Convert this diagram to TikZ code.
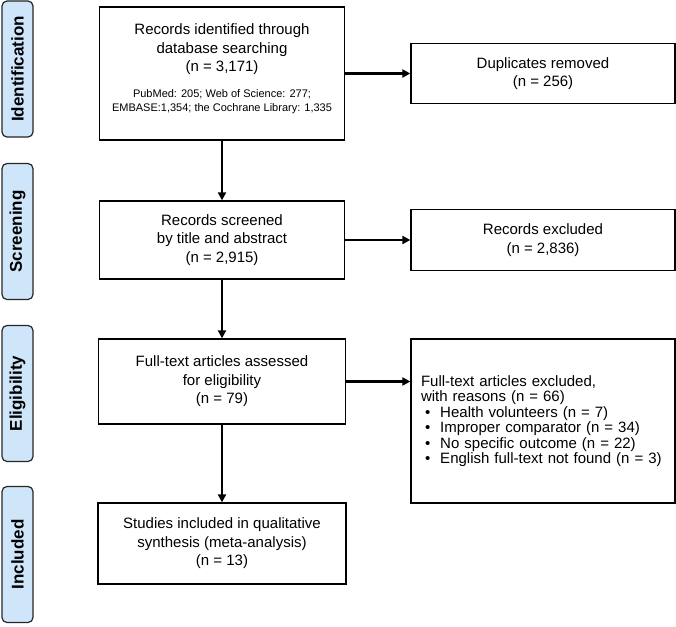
\documentclass[tikz,border=0pt]{standalone}
\usepackage{fontspec}
\setmainfont{Liberation Sans}
\usetikzlibrary{shapes, arrows.meta, positioning}
\definecolor{tabblue}{RGB}{207,230,250}

\begin{document}
\begin{tikzpicture}[x=1pt, y=-1pt,
            box/.style={rectangle, draw=black, line width=1.3pt, align=center, inner sep=0pt, font=\fontsize{15}{18.5}\selectfont},
            stage/.style={rectangle, rounded corners=5pt, draw=black!85, line width=1.2pt, fill=tabblue, minimum width=136pt, minimum height=31pt, rotate=90, font=\fontsize{17}{20}\selectfont\bfseries},
            arrow/.style={-{Triangle[length=8pt,width=8pt]}, line width=2.4pt}
        ]
            \useasboundingbox (0,0) rectangle (676,626);

            % Stages
            \foreach \name/\y in {Identification/69, Screening/231.5, Eligibility/393.5, Included/554.5} {
                \node[stage] (tab\name) at (17.5, \y) {\name};
            }

            % Main flow
            \node[box, minimum width=245pt, minimum height=133pt] (ident) at (222, 73.5)
                {Records identified through\\ database searching\\ (n = 3,171)\\[12pt]
                 {\fontsize{11}{14}\selectfont\begin{tabular}{@{}c@{}}
                  PubMed: 205; Web of Science: 277;\\ EMBASE:1,354; the Cochrane Library: 1,335
                 \end{tabular}}\\[0pt]\mbox{}};
            \node[box, minimum width=245pt, minimum height=78pt] (screen) at (222, 240)
                {Records screened\\ by title and abstract\\ (n = 2,915)};
            \node[box, minimum width=247pt, minimum height=85pt] (elig) at (222, 381.5)
                {Full-text articles assessed\\ for eligibility\\ (n = 79)};
            \node[box, minimum width=248pt, minimum height=81pt] (incl) at (222, 543.5)
                {Studies included in qualitative\\ synthesis (meta-analysis)\\ (n = 13)};

            % Exclusions
            \node[box, minimum width=264pt, minimum height=60pt] (dupl) at (543, 73.5)
                {Duplicates removed\\ (n = 256)};
            \node[box, minimum width=264pt, minimum height=61pt] (recex) at (543, 240)
                {Records excluded\\ (n = 2,836)};
            \node[box, minimum width=264pt, minimum height=164pt, text width=244pt, align=left,
                  font=\fontsize{15}{15.5}\selectfont] (ftex) at (543, 421)
                {Full-text articles excluded,\\ with reasons (n = 66)\\
                 \hspace*{4pt}•\hspace{10pt}Health volunteers (n = 7)\\
                 \hspace*{4pt}•\hspace{10pt}Improper comparator (n = 34)\\
                 \hspace*{4pt}•\hspace{10pt}No specific outcome (n = 22)\\
                 \hspace*{4pt}•\hspace{10pt}English full-text not found (n = 3)};

            % Connections
            \draw[arrow] (ident) -- (screen);
            \draw[arrow] (screen) -- (elig);
            \draw[arrow] (elig) -- (incl);
            \draw[arrow] (ident) -- (dupl);
            \draw[arrow] (screen) -- (recex);
            \draw[arrow] (elig.east) -- (elig.east -| ftex.west);
        \end{tikzpicture}
\end{document}
